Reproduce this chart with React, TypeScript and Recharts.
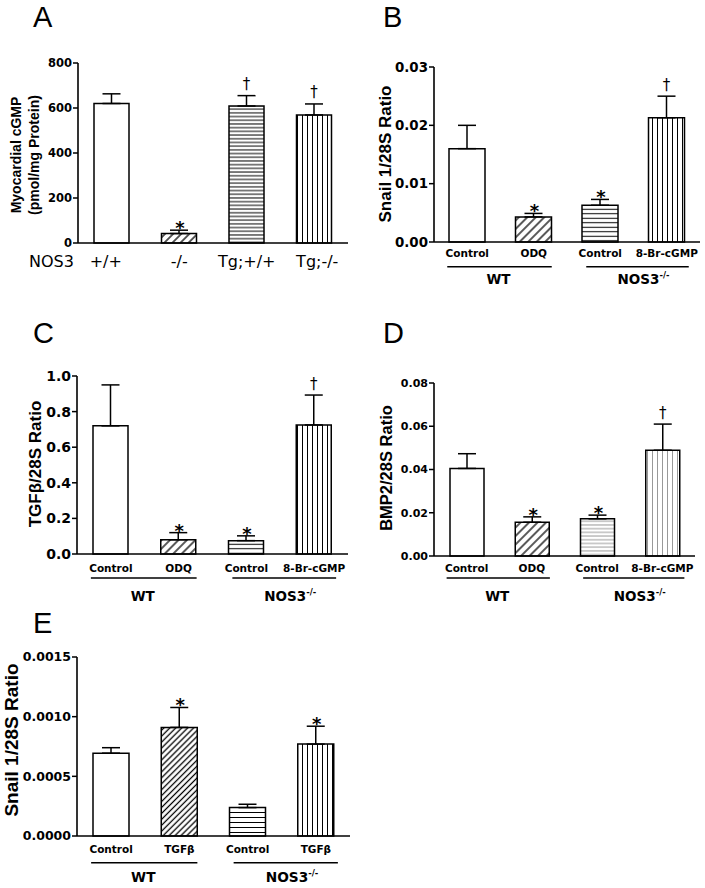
import React from 'react';
import { BarChart, Bar, XAxis, YAxis, ErrorBar, Cell, LabelList } from 'recharts';

// ---------- Data ----------
const catsA = ['+/+', '-/-', 'Tg;+/+', 'Tg;-/-'];
const valsA = [620, 42, 609, 569];
const errsA = [43, 15, 46, 49];
const sigsA = ['', '*', '†', '†'];
const ticksA = [0, 200, 400, 600, 800];

const catsB = ['Control', 'ODQ', 'Control', '8-Br-cGMP'];
const valsB = [0.016, 0.0043, 0.0063, 0.0213];
const errsB = [0.004, 0.0006, 0.001, 0.0037];
const sigsB = ['', '*', '*', '†'];
const ticksB = [0, 0.01, 0.02, 0.03];

const catsC = ['Control', 'ODQ', 'Control', '8-Br-cGMP'];
const valsC = [0.72, 0.08, 0.075, 0.725];
const errsC = [0.23, 0.04, 0.027, 0.168];
const sigsC = ['', '*', '*', '†'];
const ticksC = [0, 0.2, 0.4, 0.6, 0.8, 1.0];

const catsD = ['Control', 'ODQ', 'Control', '8-Br-cGMP'];
const valsD = [0.0405, 0.0156, 0.0172, 0.0489];
const errsD = [0.0068, 0.0025, 0.0017, 0.0121];
const sigsD = ['', '*', '*', '†'];
const ticksD = [0, 0.02, 0.04, 0.06, 0.08];

const catsE = ['Control', 'TGFβ', 'Control', 'TGFβ'];
const valsE = [0.000694, 0.00091, 0.000238, 0.00077];
const errsE = [0.000046, 0.000167, 0.000028, 0.00015];
const sigsE = ['', '*', '', '*'];
const ticksE = [0, 0.0005, 0.001, 0.0015];

const groupLabels = ['WT', 'NOS3'];

// ---------- Styles ----------
const WIDE = 'DejaVu Sans, Verdana, sans-serif';
const ARIAL = 'Liberation Sans, Arial, sans-serif';

type Cfg = {
  id: string;
  box: { left: number; top: number; w: number; h: number };
  plot: { l: number; r: number; t: number; b: number };
  cats: string[];
  vals: number[];
  errs: number[];
  sigs: string[];
  ticks: number[];
  decimals: number;
  tickSize: number;
  yLines: string[];
  yLineX: number[];
  yLineY: number;
  ySize: number;
  letter: string;
  letterY: number;
  grouped: boolean;
  catDy: number;
  catSize: number;
  lineDy?: number;
  groupDy?: number;
  groupSize?: number;
  diag: number;
  hor: number;
  ver: number;
  lineColor: string;
  barSize: number;
};

const catDxA = [-6, 0, 0, 3];

function makeTick(cfg: Cfg) {
  return (props: any) => {
    const { x, payload } = props;
    const i: number = payload?.index ?? props.index ?? 0;
    const cx = Number(x);
    const axisY = cfg.plot.b;
    const band = (cfg.plot.r - cfg.plot.l) / cfg.cats.length;
    const label = cfg.cats[i];
    if (!cfg.grouped) {
      return (
        <g>
          {i === 0 && (
            <text x={29} y={axisY + cfg.catDy} fontFamily={WIDE} fontSize={cfg.catSize} fill="#000" textAnchor="start">
              NOS3
            </text>
          )}
          <text x={cx + catDxA[i]} y={axisY + cfg.catDy} fontFamily={WIDE} fontSize={cfg.catSize} fill="#000" textAnchor="middle">
            {label}
          </text>
        </g>
      );
    }
    const parts: any[] = [];
    parts.push(
      <text key="c" x={cx} y={axisY + cfg.catDy} fontFamily={WIDE} fontWeight="bold" fontSize={cfg.catSize} fill="#000" textAnchor="middle">
        {label}
      </text>
    );
    if (i === 0 || i === 2) {
      const g = i === 0 ? 0 : 1;
      const x1 = g === 0 ? cx - 20 : cx - 14;
      const x2 = g === 0 ? cx + band + 18 : cx + band + 22;
      const mid = cx + band / 2;
      const ly = axisY + (cfg.lineDy || 0);
      parts.push(<line key="l" x1={x1} x2={x2} y1={ly} y2={ly} stroke="#000" strokeWidth={1.5} />);
      if (g === 0) {
        parts.push(
          <text key="g" x={mid - 2} y={axisY + (cfg.groupDy || 0)} fontFamily={WIDE} fontWeight="bold" fontSize={cfg.groupSize} fill="#000" textAnchor="middle">
            {groupLabels[0]}
          </text>
        );
      } else {
        parts.push(
          <text key="g" x={mid - 16} y={axisY + (cfg.groupDy || 0)} fontFamily={WIDE} fontWeight="bold" fontSize={cfg.groupSize} fill="#000" textAnchor="start">
            {groupLabels[1]}
            <tspan dy={-6} fontSize={(cfg.groupSize || 14) * 0.62}>-/-</tspan>
          </text>
        );
      }
    }
    return <g>{parts}</g>;
  };
}

function Panel({ cfg }: { cfg: Cfg }) {
  const data = cfg.cats.map((c, i) => ({
    key: `${cfg.id}${i}`,
    label: c,
    value: cfg.vals[i],
    err: [0, cfg.errs[i]],
    sig: cfg.sigs[i],
  }));
  const fills = ['#ffffff', `url(#dg-${cfg.id})`, `url(#hz-${cfg.id})`, `url(#vt-${cfg.id})`];
  const { box, plot } = cfg;
  const xAxisH = 30;
  const margin = { top: plot.t, right: box.w - plot.r, bottom: box.h - plot.b - xAxisH, left: 0 };
  const sigContent = (p: any) => {
    const { value, index } = p;
    if (!value) return null;
    const x = Number(p.x), y = Number(p.y), w = Number(p.width), h = Number(p.height);
    const v = cfg.vals[index];
    const e = cfg.errs[index];
    const top = y - (e * h) / v;
    const cx = x + w / 2;
    if (value === '*') {
      return (
        <text x={cx + 1} y={top + 4} textAnchor="middle" fontFamily={WIDE} fontWeight="bold" fontSize={18} fill="#000">
          *
        </text>
      );
    }
    return (
      <text x={cx} y={top - 6.5} textAnchor="middle" fontFamily={WIDE} fontSize={15} fill="#000">
        †
      </text>
    );
  };
  return (
    <div style={{ position: 'absolute', left: box.left, top: box.top, width: box.w, height: box.h }}>
      <BarChart width={box.w} height={box.h} data={data} margin={margin}>
        <defs>
          <pattern id={`dg-${cfg.id}`} patternUnits="userSpaceOnUse" width={cfg.diag} height={cfg.diag} patternTransform="rotate(45)">
            <rect width={cfg.diag} height={cfg.diag} fill="#fff" />
            <line x1={cfg.diag / 2} y1={0} x2={cfg.diag / 2} y2={cfg.diag} stroke="#000" strokeWidth={1.3} />
          </pattern>
          <pattern id={`hz-${cfg.id}`} patternUnits="userSpaceOnUse" width={4} height={cfg.hor}>
            <rect width={4} height={cfg.hor} fill="#fff" />
            <line x1={0} y1={cfg.hor / 2} x2={4} y2={cfg.hor / 2} stroke={cfg.lineColor} strokeWidth={1} />
          </pattern>
          <pattern id={`vt-${cfg.id}`} patternUnits="userSpaceOnUse" width={cfg.ver} height={4}>
            <rect width={cfg.ver} height={4} fill="#fff" />
            <line x1={cfg.ver / 2} y1={0} x2={cfg.ver / 2} y2={4} stroke={cfg.lineColor} strokeWidth={1} />
          </pattern>
        </defs>
        <XAxis
          dataKey="key"
          height={xAxisH}
          axisLine={{ stroke: '#000', strokeWidth: 1.6 }}
          tickLine={false}
          interval={0}
          tick={makeTick(cfg)}
        />
        <YAxis
          width={plot.l}
          domain={[cfg.ticks[0], cfg.ticks[cfg.ticks.length - 1]]}
          ticks={cfg.ticks}
          interval={0}
          tickFormatter={(v: number) => v.toFixed(cfg.decimals)}
          axisLine={{ stroke: '#000', strokeWidth: 1.6 }}
          tickLine={{ stroke: '#000', strokeWidth: 1.5 }}
          tickSize={5}
          tickMargin={1}
          tick={{ fontFamily: WIDE, fontWeight: 'bold', fontSize: cfg.tickSize, fill: '#000' }}
        />
        <Bar dataKey="value" barSize={cfg.barSize} stroke="#000" strokeWidth={1.5} isAnimationActive={false}>
          {data.map((d, i) => (
            <Cell key={d.key} fill={fills[i]} />
          ))}
          <ErrorBar dataKey="err" direction="y" width={9} stroke="#000" strokeWidth={1.5} isAnimationActive={false} />
          <LabelList dataKey="sig" content={sigContent} />
        </Bar>
        {cfg.yLines.map((t, i) => (
          <text
            key={t}
            x={cfg.yLineX[i]}
            y={cfg.yLineY}
            transform={`rotate(-90, ${cfg.yLineX[i]}, ${cfg.yLineY})`}
            textAnchor="middle"
            fontFamily={ARIAL}
            fontWeight="bold"
            fontSize={cfg.ySize}
            fill="#000"
          >
            {t}
          </text>
        ))}
        <text x={33} y={cfg.letterY} fontFamily={ARIAL} fontSize={29} fill="#000">
          {cfg.letter}
        </text>
      </BarChart>
    </div>
  );
}

const cfgA: Cfg = {
  id: 'A', box: { left: 0, top: 0, w: 350, h: 290 }, plot: { l: 78, r: 348, t: 63, b: 243 },
  cats: catsA, vals: valsA, errs: errsA, sigs: sigsA, ticks: ticksA, decimals: 0, tickSize: 11.5,
  yLines: ['Myocardial cGMP', '(pmol/mg Protein)'], yLineX: [20.5, 38.5], yLineY: 155, ySize: 14,
  letter: 'A', letterY: 27, grouped: false, catDy: 24, catSize: 16,
  diag: 5.7, hor: 3.7, ver: 5, lineColor: '#000', barSize: 35,
};
const cfgB: Cfg = {
  id: 'B', box: { left: 350, top: 0, w: 355, h: 290 }, plot: { l: 84, r: 350, t: 67, b: 242 },
  cats: catsB, vals: valsB, errs: errsB, sigs: sigsB, ticks: ticksB, decimals: 2, tickSize: 13.4,
  yLines: ['Snail 1/28S Ratio'], yLineX: [41], yLineY: 154, ySize: 17,
  letter: 'B', letterY: 27, grouped: true, catDy: 15, catSize: 10.5, lineDy: 24.7, groupDy: 42, groupSize: 13.5,
  diag: 6, hor: 4.5, ver: 5, lineColor: '#000', barSize: 36,
};
const cfgC: Cfg = {
  id: 'C', box: { left: 0, top: 290, w: 350, h: 320 }, plot: { l: 77, r: 348, t: 86, b: 264 },
  cats: catsC, vals: valsC, errs: errsC, sigs: sigsC, ticks: ticksC, decimals: 1, tickSize: 14,
  yLines: ['TGFβ/28S Ratio'], yLineX: [41], yLineY: 174, ySize: 17,
  letter: 'C', letterY: 53, grouped: true, catDy: 18, catSize: 10.5, lineDy: 24, groupDy: 47, groupSize: 13.5,
  diag: 6, hor: 4.5, ver: 5, lineColor: '#000', barSize: 35,
};
const cfgD: Cfg = {
  id: 'D', box: { left: 350, top: 290, w: 355, h: 320 }, plot: { l: 84, r: 345, t: 93, b: 266 },
  cats: catsD, vals: valsD, errs: errsD, sigs: sigsD, ticks: ticksD, decimals: 2, tickSize: 11,
  yLines: ['BMP2/28S Ratio'], yLineX: [41.5], yLineY: 178, ySize: 16.5,
  letter: 'D', letterY: 53, grouped: true, catDy: 16, catSize: 10.5, lineDy: 22, groupDy: 45, groupSize: 13.5,
  diag: 6, hor: 3.7, ver: 5, lineColor: '#999', barSize: 34,
};
const cfgE: Cfg = {
  id: 'E', box: { left: 0, top: 580, w: 350, h: 308 }, plot: { l: 77, r: 350, t: 77, b: 256 },
  cats: catsE, vals: valsE, errs: errsE, sigs: sigsE, ticks: ticksE, decimals: 4, tickSize: 12.5,
  yLines: ['Snail 1/28S Ratio'], yLineX: [18], yLineY: 160, ySize: 19,
  letter: 'E', letterY: 53, grouped: true, catDy: 17, catSize: 10.5, lineDy: 26.7, groupDy: 46, groupSize: 13.7,
  diag: 4.2, hor: 5, ver: 5, lineColor: '#000', barSize: 36,
};

export default function App() {
  return (
    <div style={{ position: 'absolute', left: 0, top: 0, width: 705, height: 888, background: '#fff', overflow: 'hidden' }}>
      <Panel cfg={cfgA} />
      <Panel cfg={cfgB} />
      <Panel cfg={cfgC} />
      <Panel cfg={cfgD} />
      <Panel cfg={cfgE} />
    </div>
  );
}
